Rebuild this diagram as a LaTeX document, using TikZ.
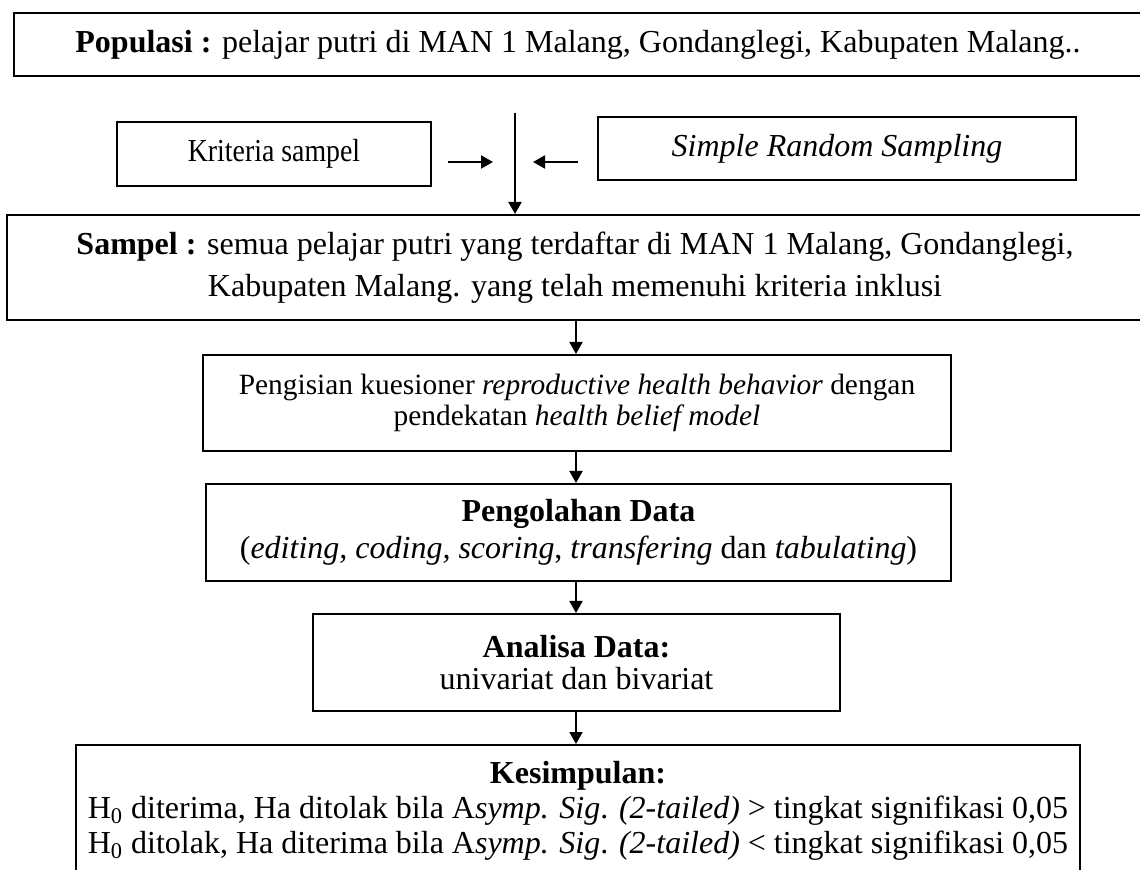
\documentclass[tikz,border=0pt]{standalone}
\usepackage{graphicx}
\usepackage{fontspec}
\setmainfont{Liberation Serif}
\usetikzlibrary{arrows.meta}
\begin{document}
\begin{tikzpicture}[x=0.5pt,y=-0.5pt,
  box/.style={draw, line width=1pt, inner sep=0pt, align=center, font=\fontsize{16}{21}\selectfont},
  arr/.style={-{Triangle[length=6pt,width=6.5pt]}, line width=1pt}]
\clip (0,0) rectangle (1140,870);
\fill[white] (0,0) rectangle (1140,870);
% boxes
\node[box, minimum width=564pt, minimum height=31.5pt] (pop) at (578,44.5)
  {\textbf{Populasi :} pelajar putri di MAN 1 Malang, Gondanglegi, Kabupaten Malang..};
\node[box, minimum width=157pt, minimum height=32pt] (krit) at (274,154) {\scalebox{0.87}[1]{Kriteria sampel}};
\node[box, minimum width=239pt, minimum height=31.5pt] (srs) at (837,148.5) {\textit{Simple Random Sampling}};
\node[box, minimum width=568pt, minimum height=52.5pt] (sampel) at (575,267.5)
  {\textbf{Sampel :} semua pelajar putri yang terdaftar di MAN 1 Malang, Gondanglegi,\\
   Kabupaten Malang. yang telah memenuhi kriteria inklusi};
\node[box, minimum width=374pt, minimum height=48pt, font=\fontsize{14.7}{15.5}\selectfont] (peng) at (577,403)
  {Pengisian kuesioner \textit{reproductive health behavior} dengan\\
   pendekatan \textit{health belief model}};
\node[box, minimum width=372.5pt, minimum height=48.5pt, font=\fontsize{16}{18.5}\selectfont] (olah) at (578.5,532.5)
  {\textbf{Pengolahan Data}\\
   (\textit{editing, coding, scoring}, \textit{transfering} dan \textit{tabulating})};
\node[box, minimum width=263.5pt, minimum height=48.5pt, font=\fontsize{16}{16}\selectfont] (anal) at (576.5,662.5)
  {\textbf{Analisa Data:}\\ univariat dan bivariat};
\node[box, minimum width=502pt, minimum height=66pt, font=\fontsize{16}{17.5}\selectfont] (kes) at (578,811)
  {\textbf{Kesimpulan:}\\
   H\textsubscript{0} diterima, Ha ditolak bila A\textit{symp. Sig}. \textit{(2-tailed)} > tingkat signifikasi 0,05\\
   H\textsubscript{0} ditolak, Ha diterima bila A\textit{symp. Sig}. \textit{(2-tailed)} < tingkat signifikasi 0,05};
% connectors
\coordinate (vtop) at (515,113);
\coordinate (ka1) at (448,162);
\coordinate (ka2) at (493,162);
\coordinate (kb1) at (578,162);
\coordinate (kb2) at (533,162);
\coordinate (ax) at (576,0);
\draw[arr] (vtop) -- (vtop |- sampel.north);
\draw[arr] (ka1) -- (ka2);
\draw[arr] (kb1) -- (kb2);
\draw[arr] (ax |- sampel.south) -- (ax |- peng.north);
\draw[arr] (ax |- peng.south) -- (ax |- olah.north);
\draw[arr] (ax |- olah.south) -- (ax |- anal.north);
\draw[arr] (ax |- anal.south) -- (ax |- kes.north);
\end{tikzpicture}
\end{document}
